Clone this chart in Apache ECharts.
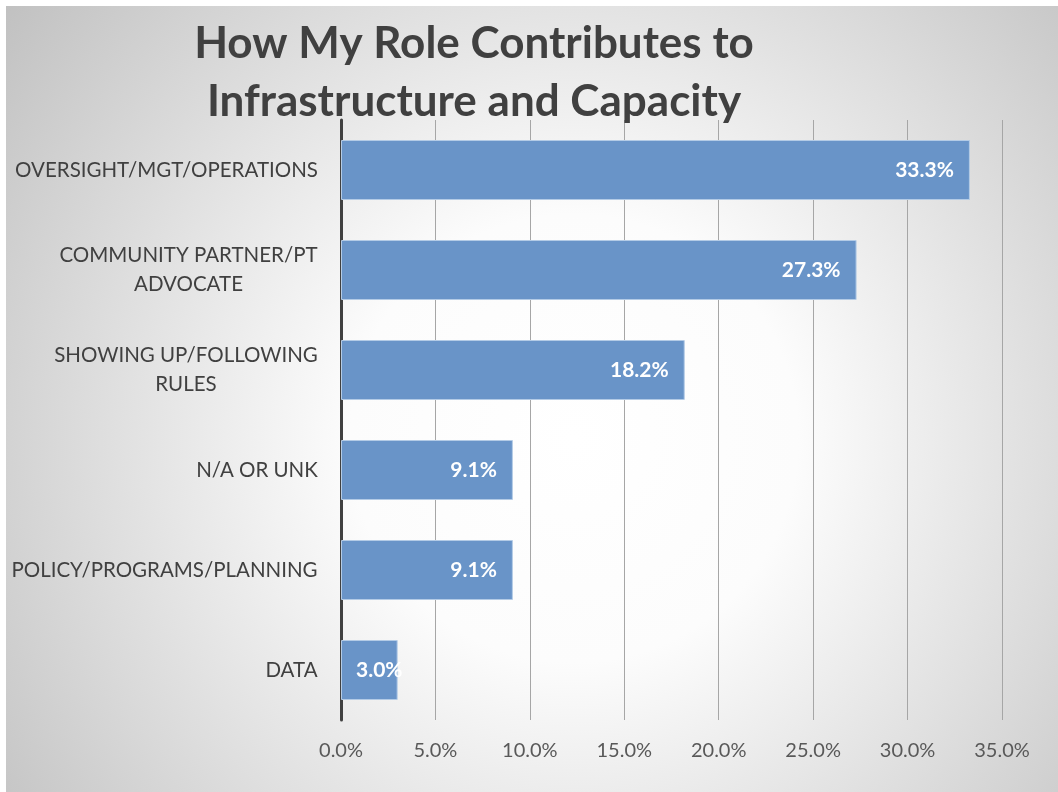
<!DOCTYPE html>
<html>
<head>
<meta charset="utf-8">
<script src="https://cdn.jsdelivr.net/npm/echarts@6/dist/echarts.min.js"></script>
<style>
  html, body { margin: 0; padding: 0; background: #fff; }
  #chart {
    position: absolute; left: 6px; top: 6px;
    width: 1052px; height: 786px;
  }
</style>
</head>
<body>
<div id="chart"></div>
<script>
  // data
  const roles = [
    'OVERSIGHT/MGT/OPERATIONS',
    'COMMUNITY PARTNER/PT\nADVOCATE',
    'SHOWING UP/FOLLOWING\nRULES',
    'N/A OR UNK',
    'POLICY/PROGRAMS/PLANNING',
    'DATA'
  ];
  const shares = [33.3, 27.3, 18.2, 9.1, 9.1, 3.0];
  const ticks = [0, 5, 10, 15, 20, 25, 30, 35];

  const font = 'Lato';
  const labelSize = 20.5;
  const ctx = document.createElement('canvas').getContext('2d');
  ctx.font = labelSize + 'px ' + font;

  // each multi-line label: lines centred, block right aligned
  const rich = {};
  roles.forEach((r, i) => {
    const w = Math.max(...r.split('\n').map(l => ctx.measureText(l).width));
    rich['c' + i] = {
      width: Math.ceil(w), align: 'center',
      fontFamily: font, fontSize: labelSize, color: '#404040', lineHeight: 29
    };
  });

  const chart = echarts.init(document.getElementById('chart'));
  chart.setOption({
    backgroundColor: {
      type: 'radial', x: 0.54, y: 0.55, r: 0.95,
      colorStops: [
        {offset: 0, color: '#ffffff'},
        {offset: 0.3, color: '#fcfcfc'},
        {offset: 1, color: '#bdbdbd'}
      ]
    },
    title: {
      text: 'How My Role Contributes to\nInfrastructure and Capacity',
      left: 463, top: 4, textAlign: 'center',
      textStyle: {fontFamily: font, fontSize: 44, fontWeight: 'bold', color: '#404040', lineHeight: 58}
    },
    grid: {left: 335, right: 56, top: 114, bottom: 72, containLabel: false, outerBoundsMode: 'none'},
    xAxis: {
      type: 'value', min: ticks[0], max: ticks[ticks.length - 1], interval: 5,
      axisLine: {show: false}, axisTick: {show: false},
      splitLine: {lineStyle: {color: '#a6a6a6', width: 1}},
      axisLabel: {
        margin: 21, color: '#595959', fontFamily: font, fontSize: 20,
        formatter: v => v.toFixed(1) + '%'
      }
    },
    yAxis: {
      type: 'category', data: roles, inverse: true,
      axisLine: {lineStyle: {color: '#404040', width: 3}},
      axisTick: {show: false},
      axisLabel: {
        margin: 23, color: '#404040', fontFamily: font, fontSize: labelSize, lineHeight: 29,
        formatter: (v, i) => v.split('\n').map(l => '{c' + i + '|' + l + '}').join('\n'),
        rich: rich
      }
    },
    series: [{
      type: 'bar',
      barWidth: '60%',
      data: shares.map(v => v < 5
        ? {value: v, label: {position: 'insideLeft', distance: 15}}
        : v),
      itemStyle: {color: '#6994c8', borderColor: '#b3cbe6', borderWidth: 1},
      label: {
        show: true, position: 'insideRight', distance: 16,
        color: '#ffffff', fontFamily: font, fontSize: 21, fontWeight: 'bold',
        formatter: p => p.value.toFixed(1) + '%'
      },
      z: 3
    }]
  });
</script>
</body>
</html>
